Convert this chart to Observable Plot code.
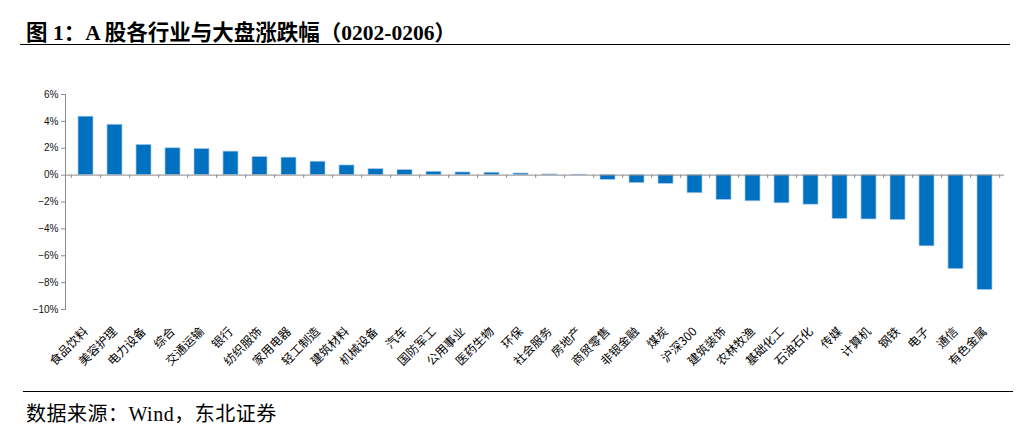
<!DOCTYPE html>
<html>
<head>
<meta charset="utf-8">
<script src="https://cdn.jsdelivr.net/npm/d3@7"></script>
<script src="https://cdn.jsdelivr.net/npm/@observablehq/plot@0.6"></script>
<style>
  html, body { margin: 0; padding: 0; background: #fff; }
  #wrap { width: 1026px; height: 432px; position: relative; overflow: hidden; }
  #title { position: absolute; left: 20px; top: 0; width: 990px; height: 45px; border-bottom: 1.5px solid #000;
    font-family: "Liberation Serif", "Noto Sans CJK SC", serif; font-weight: bold; font-size: 21.5px; color: #000;
    line-height: 22px; box-sizing: border-box; padding: 22px 0 0 6px; }
  #chart { position: absolute; left: 0; top: 47px; }
  #foot { position: absolute; left: 23px; top: 391px; width: 987px; border-top: 1.2px solid #000;
    font-family: "Liberation Serif", "Noto Sans CJK SC", serif; font-size: 20px; letter-spacing: 0.5px; color: #000; padding: 6px 0 0 3px; }
</style>
</head>
<body>
<div id="wrap">
  <div id="title">图 1：A 股各行业与大盘涨跌幅（0202-0206）</div>
  <div id="chart"></div>
  <div id="foot">数据来源：Wind，东北证券</div>
</div>
<script>
const categories = ["食品饮料","美容护理","电力设备","综合","交通运输","银行","纺织服饰","家用电器","轻工制造","建筑材料","机械设备","汽车","国防军工","公用事业","医药生物","环保","社会服务","房地产","商贸零售","非银金融","煤炭","沪深300","建筑装饰","农林牧渔","基础化工","石油石化","传媒","计算机","钢铁","电子","通信","有色金属"];
const values = [4.35,3.75,2.25,2.0,1.95,1.75,1.35,1.3,1.0,0.72,0.45,0.38,0.25,0.2,0.18,0.12,0.05,0.03,-0.35,-0.6,-0.65,-1.35,-1.85,-1.95,-2.1,-2.2,-3.27,-3.3,-3.35,-5.3,-7.0,-8.55];
const yTicks = [6,4,2,0,-2,-4,-6,-8,-10];

const data = categories.map((c, i) => ({name: c, value: values[i]}));

const W = 1026, H = 345, mL = 65, mR = 22, mT = 47, mB = 83;
const step = (W - mL - mR) / categories.length;

const fmt = d => (d < 0 ? "\u2212" : "") + Math.abs(d) + "%";

const plot = Plot.plot({
  width: W, height: H,
  marginTop: mT, marginBottom: mB, marginLeft: mL, marginRight: mR,
  style: {background: "#fff", overflow: "visible"},
  x: {domain: categories, paddingInner: 0.5, paddingOuter: 0.25, axis: null},
  y: {domain: [-10, 6], axis: null},
  marks: [
    Plot.barY(data, {x: "name", y: "value", fill: "#0070c0", stroke: "#a9cdee", strokeWidth: 0.7}),
    Plot.ruleY([0], {stroke: "#8c8c8c", strokeWidth: 1}),
    Plot.ruleX(categories, {x: d => d, y1: 0, y2: -0.25, dx: step / 2, stroke: "#8c8c8c"}),
    Plot.ruleX(categories.slice(0, 1), {x: d => d, y1: 0, y2: -0.25, dx: -step / 2, stroke: "#8c8c8c"}),
    Plot.frame({anchor: "left", stroke: "#8c8c8c"}),
    Plot.axisY({ticks: yTicks, tickFormat: fmt, tickSize: 4, tickPadding: 3, stroke: "#8c8c8c", label: null,
      fontSize: 10, fontFamily: "Liberation Sans, Arial, sans-serif", fill: "#111"}),
    Plot.text(data, {x: "name", text: "name", frameAnchor: "bottom", rotate: -45, textAnchor: "end",
      lineAnchor: "middle", dy: 20, dx: 0, fontSize: 12, fill: "#000",
      fontFamily: "Noto Sans CJK SC, sans-serif"})
  ]
});
document.getElementById("chart").appendChild(plot);
</script>
</body>
</html>
